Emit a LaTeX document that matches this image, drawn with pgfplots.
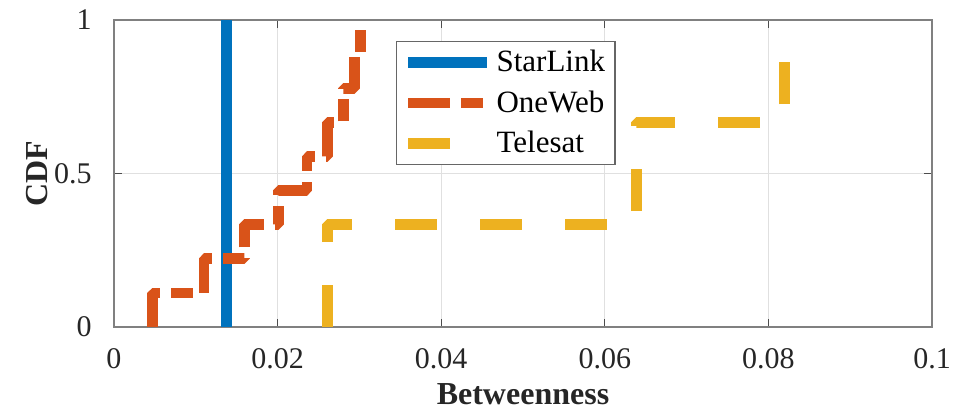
\documentclass[border=0pt]{standalone}
\usepackage{fontspec}
\setmainfont{Liberation Serif}
\usepackage{pgfplots}
\pgfplotsset{compat=1.18}
\definecolor{mblue}{rgb}{0,0.447,0.741}
\definecolor{morange}{rgb}{0.85,0.325,0.098}
\definecolor{myellow}{rgb}{0.929,0.694,0.125}
\begin{document}
\begin{tikzpicture}
\useasboundingbox (-57pt,-41pt) rectangle (425pt,163.5pt);
\begin{axis}[
  at={(0,0)}, anchor=south west,
  scale only axis, width=409pt, height=153.5pt,
  xmin=0, xmax=0.1, ymin=0, ymax=1,
  xtick={0,0.02,0.04,0.06,0.08,0.1},
  xticklabels={0,0.02,0.04,0.06,0.08,0.1},
  ytick={0,0.5,1},
  yticklabels={0,0.5,1},
  tick align=inside, major tick length=4pt,
  tick style={black!70, line width=0.6pt},
  axis line style={black!50, line width=0.8pt},
  grid=major, major grid style={black!12, line width=0.6pt},
  tick label style={font=\fontsize{15}{18}\selectfont, text=black!85},
  /pgf/number format/assume math mode=true,
  xticklabel style={anchor=base, yshift=-20.5pt},
  yticklabel style={anchor=east, inner xsep=0pt, xshift=-11pt},
  xlabel={\textbf{Betweenness}},
  ylabel={\textbf{CDF}},
  label style={font=\fontsize{16}{19}\selectfont, text=black!85},
  xlabel style={at={(axis description cs:0.5,-0.252)}, anchor=base, inner sep=0pt},
  ylabel style={at={(axis description cs:-0.0804,0.5)}, anchor=south, inner sep=0pt},
  legend style={at={(axis description cs:0.345,0.933)}, anchor=north west,
    draw=black!60, line width=0.6pt, fill=white,
    font=\fontsize{15.5}{18}\selectfont,
    inner xsep=3pt, inner ysep=2.5pt, row sep=4pt,
    cells={anchor=west}},
  legend cell align=left,
  legend image code/.code={\draw[#1] (0pt,0pt) -- (39.5pt,0pt);},
  every axis plot/.append style={line width=5.4pt, line join=bevel, line cap=butt},
]
\addplot[mblue] coordinates {(0.01372,0) (0.01372,1)};
\addlegendentry{StarLink\hspace{4pt}}
\addplot[morange, dash pattern=on 21pt off 5.5pt on 11pt off 5.5pt] coordinates {
(0.0047,0) (0.0047,0.1111) (0.0110,0.1111) (0.0110,0.2222)
(0.0160,0.2222) (0.0160,0.3333) (0.0201,0.3333) (0.0201,0.4444)
(0.0236,0.4444) (0.0236,0.5556) (0.0261,0.5556) (0.0261,0.6667)
(0.0281,0.6667) (0.0281,0.7778) (0.0294,0.7778) (0.0294,0.8889)
(0.0301,0.8889) (0.0301,1)};
\addlegendentry{OneWeb}
\addplot[myellow, dash pattern=on 21pt off 21.5pt] coordinates {
(0.0261,0) (0.0261,0.3333) (0.0639,0.3333) (0.0639,0.6667)
(0.0820,0.6667) (0.0820,1)};
\addlegendentry{Telesat}
\end{axis}
\end{tikzpicture}
\end{document}
